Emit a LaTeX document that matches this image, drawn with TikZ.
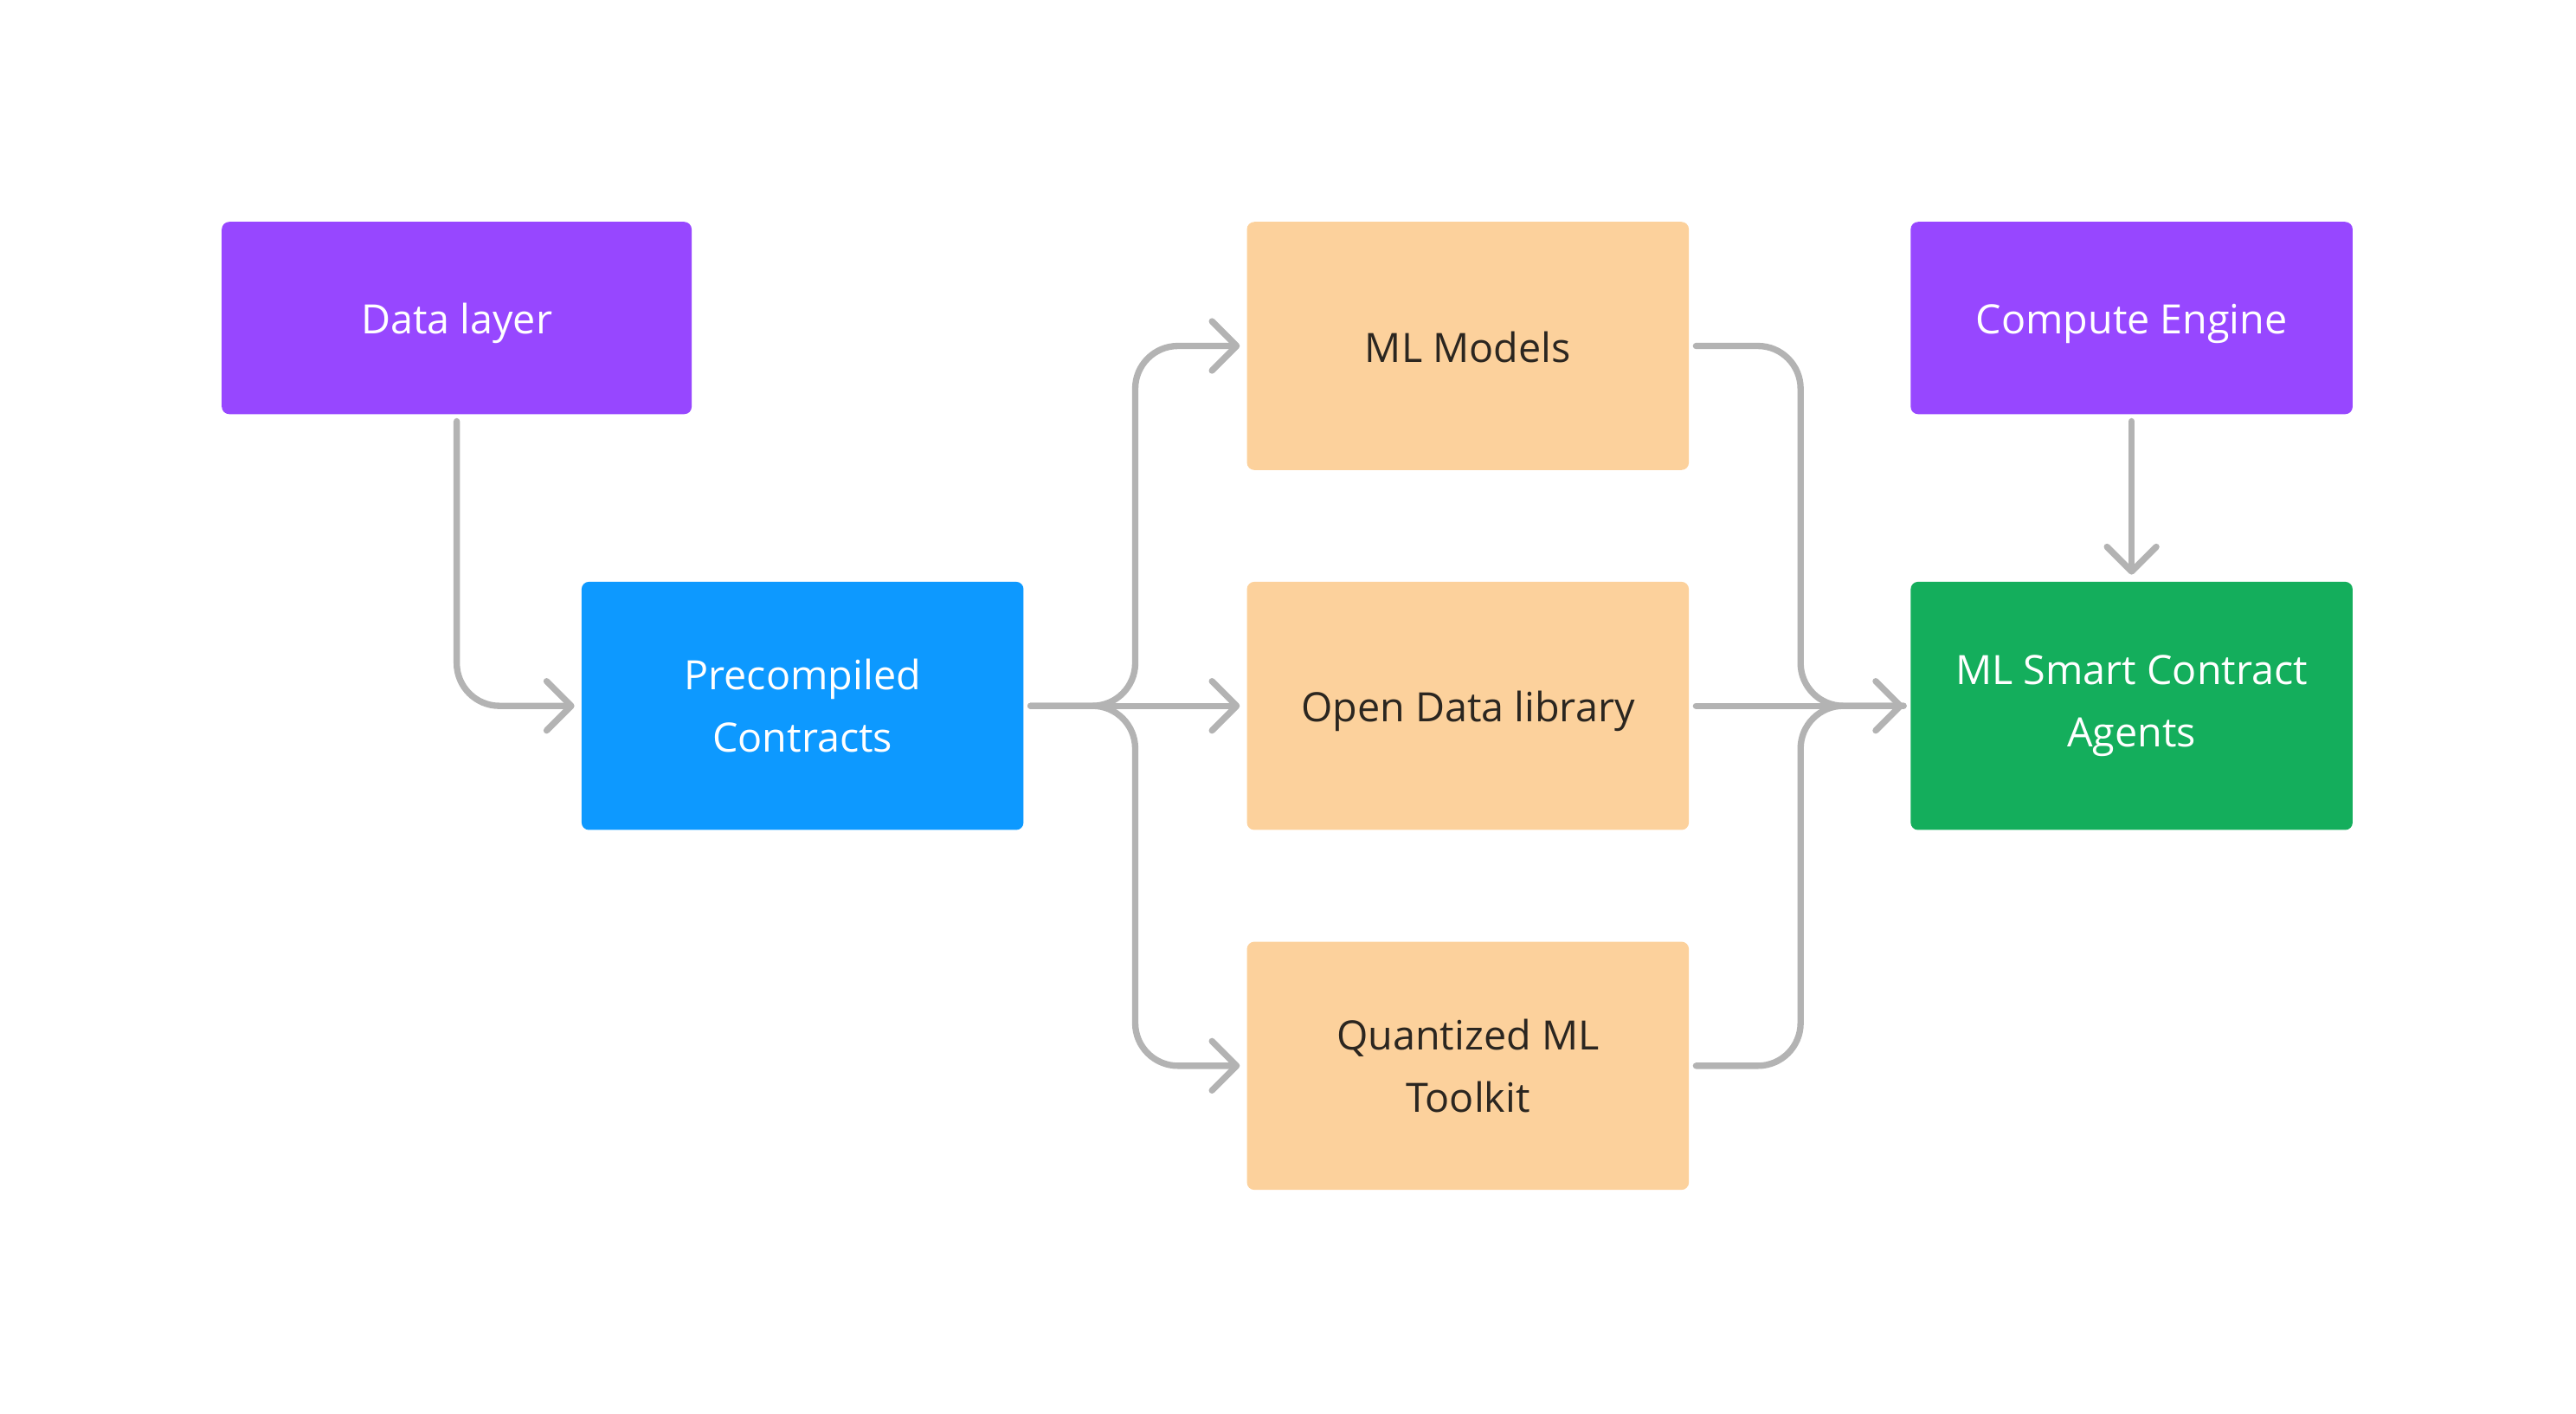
\documentclass[tikz,border=0pt]{standalone}
\usepackage{fontspec}
\setmainfont{Open Sans}
\usetikzlibrary{arrows.meta}
\definecolor{vio}{HTML}{9747FF}
\definecolor{sky}{HTML}{0D99FF}
\definecolor{peach}{HTML}{FCD19C}
\definecolor{leaf}{HTML}{14AE5C}
\definecolor{wire}{HTML}{B3B3B3}
\definecolor{ink}{HTML}{2B2620}
\tikzset{
  box/.style={rectangle, rounded corners=0.09cm, inner sep=0pt, align=center,
    minimum width=5.38cm, text=white, font=\fontsize{14}{21.6}\selectfont},
  oneline/.style={text height=1.35em, text depth=0.24em},
  low/.style={box, oneline, minimum height=2.34cm},
  tall/.style={box, minimum height=3.02cm},
  conn/.style={draw=wire, line width=2.2pt, line cap=round, rounded corners=0.52cm,
    -{Straight Barb[length=0.3cm, width=0.6cm, round]},
    shorten >=0.08cm, shorten <=0.08cm},
  link/.style={conn, -}
}
\begin{document}
\begin{tikzpicture}[x=1cm,y=1cm]
\useasboundingbox (0,0) rectangle (31.36,-17.2);
\node[low, fill=vio, minimum width=5.72cm] (data) at (5.56,-3.87) {Data layer};
\node[low, fill=vio] (engine) at (25.95,-3.87) {Compute Engine};
\node[tall, fill=sky] (precomp) at (9.77,-8.59) {Precompiled\\Contracts};
\node[tall, oneline, fill=peach, text=ink] (models) at (17.87,-4.21) {ML Models};
\node[tall, oneline, fill=peach, text=ink] (library) at (17.87,-8.59) {Open Data library};
\node[tall, fill=peach, text=ink] (toolkit) at (17.87,-12.97) {Quantized ML\\Toolkit};
\node[tall, fill=leaf] (agents) at (25.95,-8.59) {ML Smart Contract\\Agents};
\coordinate (split) at (13.82,-8.59);
\coordinate (merge) at (21.92,-8.59);
\draw[conn] (data.south) |- (precomp.west);
\draw[conn] (precomp.east) -- (library.west);
\draw[conn] (precomp.east) -| (split |- models.west) -- (models.west);
\draw[conn] (precomp.east) -| (split |- toolkit.west) -- (toolkit.west);
\draw[conn] (library.east) -- (agents.west);
\draw[link] (models.east) -| (merge) -- (agents.west);
\draw[link] (toolkit.east) -| (merge) -- (agents.west);
\draw[conn] (engine.south) -- (agents.north);
\end{tikzpicture}
\end{document}
